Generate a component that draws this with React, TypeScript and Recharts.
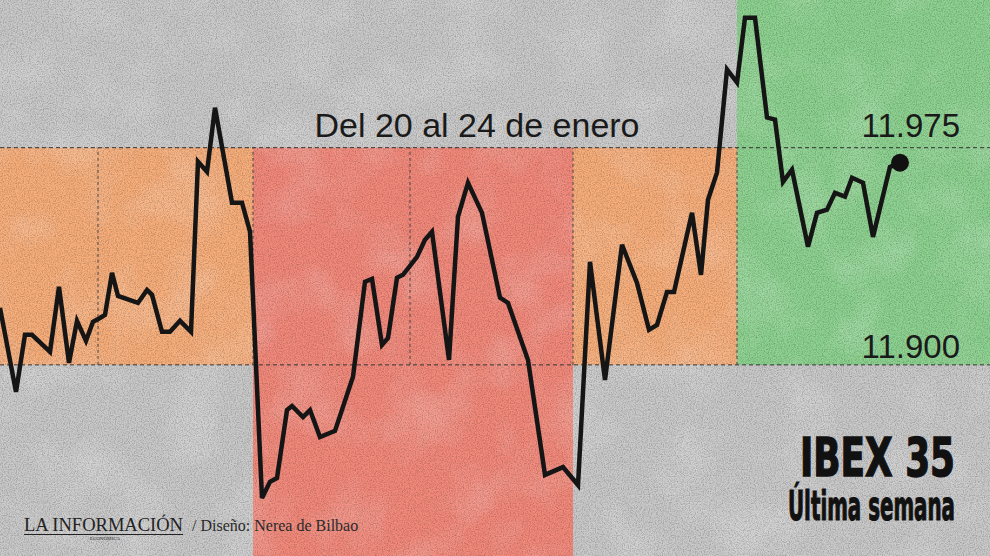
import React from "react";
import {
  ComposedChart,
  Line,
  ReferenceArea,
  ReferenceLine,
  XAxis,
  YAxis,
} from "recharts";

// IBEX 35, 20-24 January: position along the session strip (t) and index level
const tValues = [
  0, 16, 25, 32, 50, 59, 69, 77, 86, 93, 100, 105, 112, 118, 138, 147, 152, 162, 170, 180,
  191, 198, 207, 215, 232, 242, 250, 262, 270, 277, 287, 292, 303, 310, 320, 335, 353, 365,
  372, 382, 388, 397, 403, 417, 425, 432, 449, 458, 468, 482, 500, 508, 528, 545, 563, 578,
  590, 605, 622, 637, 649, 657, 667, 674, 692, 701, 708, 717, 727, 737, 745, 755, 767, 775,
  783, 792, 808, 817, 827, 835, 845, 852, 863, 873, 890, 900,
];
const ibexValues = [
  11919.7, 11890.7, 11910.4, 11910.4, 11904.5, 11927.0, 11900.7, 11915.2, 11908.3, 11914.9,
  11916.2, 11917.3, 11931.8, 11923.8, 11921.4, 11925.9, 11924.2, 11911.4, 11911.4, 11915.2,
  11911.4, 11970.2, 11966.7, 11988.8, 11956.0, 11956.0, 11946.0, 11854.0, 11859.6, 11860.9,
  11884.4, 11885.8, 11882.0, 11884.4, 11875.1, 11877.2, 11895.9, 11928.7, 11929.7, 11906.9,
  11909.3, 11930.1, 11931.1, 11937.3, 11943.2, 11946.0, 11901.7, 11951.2, 11962.9, 11952.5,
  11923.2, 11921.4, 11901.7, 11862.0, 11864.7, 11858.5, 11935.6, 11894.8, 11941.5, 11928.3,
  11912.1, 11913.8, 11925.2, 11925.2, 11952.5, 11931.1, 11957.0, 11966.4, 12002.0, 11997.5,
  12019.9, 12019.9, 11985.4, 11984.7, 11963.2, 11967.4, 11940.8, 11952.5, 11953.6, 11959.4,
  11958.1, 11964.6, 11962.9, 11944.2, 11968.4, 11969.8,
];

// guide levels and session dividers
const levelTicks = [11975, 11900];
const levelLabels = ["11.975", "11.900"];
const dividers = [98, 253, 410, 573, 737];

// coloured blocks behind the line
const blockStart = [0, 253, 573, 737];
const blockEnd = [253, 573, 737, 990];
const blockLow = [11900, 11834, 11900, 11900];
const blockHigh = [11975, 11975, 11975, 12026];
const blockColor = ["#f7ae7b", "#f2897b", "#f7ae7b", "#8dd290"];

const X_DOMAIN: [number, number] = [0, 990];
const Y_DOMAIN: [number, number] = [11834, 12026];

const data = tValues.map((t, i) => ({ t, v: ibexValues[i] }));

const W = 990;
const H = 556;
const SANS = "'Liberation Sans', Arial, sans-serif";
const SERIF = "'Liberation Serif', 'Times New Roman', serif";
const HEAVY = "'DejaVu Sans Condensed', 'DejaVu Sans', sans-serif";

// paper texture filters, shared by the background and the coloured blocks
function TextureDefs() {
  return (
    <defs>
      <filter id="grain" x="0" y="0" width="100%" height="100%">
        <feTurbulence type="fractalNoise" baseFrequency="0.85" numOctaves="2" seed="4" />
        <feColorMatrix type="matrix" values="0 0 0 0 0  0 0 0 0 0  0 0 0 0 0  0.5 0 0 0 -0.2" />
      </filter>
      <filter id="blotch" x="0" y="0" width="100%" height="100%">
        <feTurbulence type="fractalNoise" baseFrequency="0.018" numOctaves="3" seed="9" />
        <feColorMatrix type="matrix" values="0 0 0 0 1  0 0 0 0 1  0 0 0 0 1  0.45 0 0 0 -0.2" />
      </filter>
    </defs>
  );
}

function Paper({ x, y, width, height, fill }: any) {
  return (
    <g>
      <rect x={x} y={y} width={width} height={height} fill={fill} />
      <rect x={x} y={y} width={width} height={height} filter="url(#blotch)" />
      <rect x={x} y={y} width={width} height={height} filter="url(#grain)" />
    </g>
  );
}

function Background() {
  return (
    <svg width={W} height={H} style={{ position: "absolute", left: 0, top: 0 }}>
      <TextureDefs />
      <Paper x={0} y={0} width={W} height={H} fill="#c9c9c9" />
    </svg>
  );
}

function Titles() {
  return (
    <svg
      width={W}
      height={H}
      style={{ position: "absolute", left: 0, top: 0, pointerEvents: "none" }}
    >
      <text x={477} y={137} textAnchor="middle" fontFamily={SANS} fontSize={34} fill="#1a1a1a"
        textLength={325} lengthAdjust="spacingAndGlyphs">
        Del 20 al 24 de enero
      </text>
      <text x={960} y={137} textAnchor="end" fontFamily={SANS} fontSize={33} fill="#1a1a1a">
        {levelLabels[0]}
      </text>
      <text x={960} y={358} textAnchor="end" fontFamily={SANS} fontSize={33} fill="#1a1a1a">
        {levelLabels[1]}
      </text>
      <g transform="translate(800,476) scale(1,1.35)">
        <text x={0} y={0} fontFamily={HEAVY} fontWeight="bold" fontSize={39} fill="#111"
          stroke="#111" strokeWidth={1} textLength={155} lengthAdjust="spacingAndGlyphs">
          IBEX 35
        </text>
      </g>
      <g transform="translate(788,520) scale(1,1.85)">
        <text x={0} y={0} fontFamily={HEAVY} fontWeight="bold" fontSize={22} fill="#111"
          stroke="#111" strokeWidth={0.6} textLength={167} lengthAdjust="spacingAndGlyphs">
          Última semana
        </text>
      </g>
      <text x={24} y={531} fontFamily={SERIF} fontSize={18} fill="#222"
        textLength={159} lengthAdjust="spacingAndGlyphs">
        LA INFORMACIÓN
      </text>
      <line x1={24} y1={534.5} x2={183} y2={534.5} stroke="#222" strokeWidth={1.2} />
      <text x={105} y={540} textAnchor="middle" fontFamily={SERIF} fontSize={5} fill="#333">
        ECONÓMICA
      </text>
      <text x={192} y={531} fontFamily={SERIF} fontSize={16} fill="#2a2a2a">
        / Diseño: Nerea de Bilbao
      </text>
    </svg>
  );
}

const EndDot = (props: any) => {
  const { cx, cy, index } = props;
  if (index !== data.length - 1) return <g key={index} />;
  return <circle key={index} cx={cx} cy={cy} r={9} fill="#111" />;
};

export default function App() {
  return (
    <div style={{ position: "fixed", left: 0, top: 0, width: W, height: H }}>
      <Background />
      <div style={{ position: "absolute", left: 0, top: 0 }}>
        <ComposedChart width={W} height={H} data={data} margin={{ top: 0, right: 0, bottom: 0, left: 0 }}>
          <XAxis dataKey="t" type="number" domain={X_DOMAIN} allowDataOverflow hide />
          <YAxis type="number" domain={Y_DOMAIN} allowDataOverflow hide />
          {blockStart.map((x1, i) => (
            <ReferenceArea
              key={i}
              x1={x1}
              x2={blockEnd[i]}
              y1={blockLow[i]}
              y2={blockHigh[i]}
              fill={blockColor[i]}
              fillOpacity={1}
              stroke="none"
              ifOverflow="visible"
              shape={(p: any) => <Paper {...p} fill={blockColor[i]} />}
            />
          ))}
          {levelTicks.map((y) => (
            <ReferenceLine key={y} y={y} stroke="#333" strokeWidth={1} strokeDasharray="4 3" ifOverflow="visible" />
          ))}
          {dividers.map((x) => (
            <ReferenceLine
              key={x}
              segment={[{ x, y: levelTicks[1] }, { x, y: levelTicks[0] }]}
              stroke="#444"
              strokeWidth={1}
              strokeDasharray="3 3"
              ifOverflow="visible"
            />
          ))}
          <Line
            dataKey="v"
            type="linear"
            stroke="#151515"
            strokeWidth={4.5}
            strokeLinejoin="miter"
            dot={EndDot}
            activeDot={false}
            isAnimationActive={false}
          />
        </ComposedChart>
      </div>
      <Titles />
    </div>
  );
}
